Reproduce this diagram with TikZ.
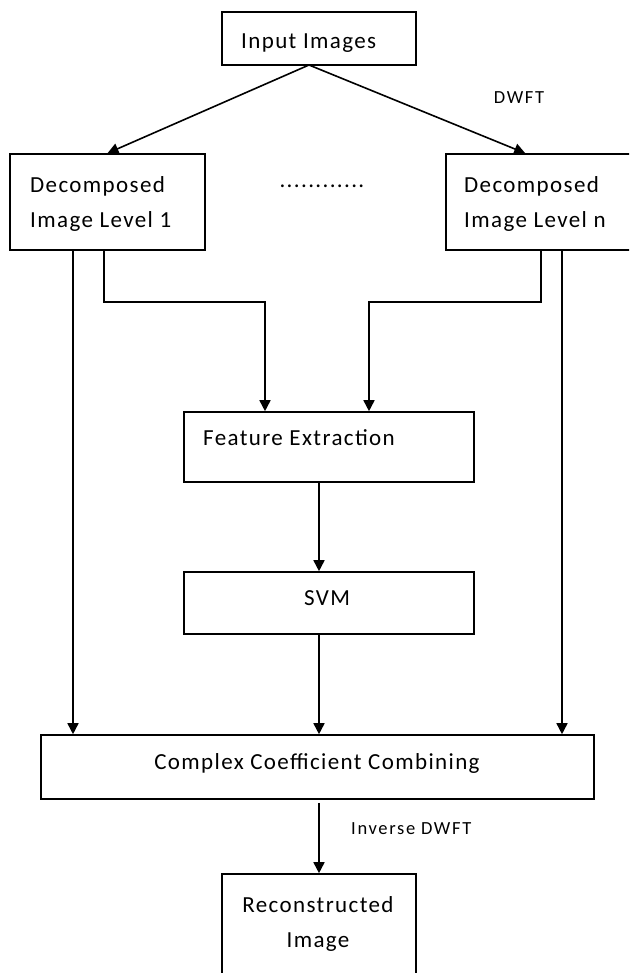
\documentclass[tikz,border=0pt]{standalone}
\usepackage{fontspec}
\setmainfont{Carlito}
\newfontfamily\spacedbig[LetterSpace=6]{Carlito}
\newfontfamily\spacedsmall[LetterSpace=9]{Carlito}
\usetikzlibrary{arrows.meta,calc}
\begin{document}
\begin{tikzpicture}[x=1pt,y=-1pt,
  box/.style={draw, line width=1.6pt, inner sep=0pt},
  lbl/.style={font=\spacedbig\fontsize{23}{35}\selectfont, inner sep=0pt},
  small/.style={font=\spacedsmall\fontsize{18.5}{22}\selectfont, inner sep=0pt},
  arr/.style={line width=1.6pt, -{Triangle[length=11pt,width=11pt]}},
  ln/.style={line width=1.6pt}]
\useasboundingbox (0,0) rectangle (629,973);
\fill[white] (0,0) rectangle (629,973);
\begin{scope}
\clip (0,0) rectangle (629,973);
% boxes
\node[box, minimum width=194pt, minimum height=53pt] (in) at (319,38.5) {};
\node[box, minimum width=195pt, minimum height=96pt] (l) at (107.5,202) {};
\node[box, minimum width=195pt, minimum height=96pt] (r) at (543.5,202) {};
\node[box, minimum width=290pt, minimum height=70pt] (feat) at (329,447) {};
\node[box, minimum width=290pt, minimum height=62pt] (svm) at (329,603) {};
\node[box, minimum width=553pt, minimum height=64pt] (comb) at (317.5,767) {};
\node[box, minimum width=194pt, minimum height=116pt] (rec) at (319,932) {};
% texts
\node[lbl, anchor=west] (tin) at (241,43) {Input Images};
\node[small] (tdwft) at (519,98) {DWFT};
\node[lbl, anchor=west, align=left] (tl) at (30,203.5) {Decomposed\\Image Level 1};
\node[lbl, anchor=west, align=left] (tr) at (464,203.5) {Decomposed\\Image Level n};
\node[lbl] (dots) at (322,186) {............};
\node[lbl, anchor=west] (tfeat) at (203,438) {Feature Extraction};
\node[lbl] (tsvm) at (327,598) {SVM};
\node[lbl] (tcomb) at (317,763) {Complex Coefficient Combining};
\node[small, anchor=west] (tinv) at (351,829) {Inverse DWFT};
\node[lbl, align=center] (trec) at (318,924) {Reconstructed\\Image};
% coordinates
\coordinate (src) at (309,65);
\coordinate (xa) at (73,0);
\coordinate (xb) at (104,0);
\coordinate (xc) at (541,0);
\coordinate (xd) at (562,0);
\coordinate (xe) at (319,0);
\coordinate (mL) at (265,302);
\coordinate (mR) at (369,302);
% connectors
\draw[arr] (src) -- (l.north);
\draw[arr] (src) -- ($(r.north west)+(80,0)$);
\draw[arr] (l.south -| xa) -- (comb.north -| xa);
\draw[arr] (l.south -| xb) |- (mL) -- (feat.north -| mL);
\draw[arr] (r.south -| xc) |- (mR) -- (feat.north -| mR);
\draw[arr] (r.south -| xd) -- (comb.north -| xd);
\draw[arr] (feat.south -| xe) -- (svm.north -| xe);
\draw[arr] (svm.south -| xe) -- (comb.north -| xe);
\draw[arr] ($(comb.south -| rec.north)+(0,3)$) -- (rec.north);
\end{scope}
\end{tikzpicture}
\end{document}
